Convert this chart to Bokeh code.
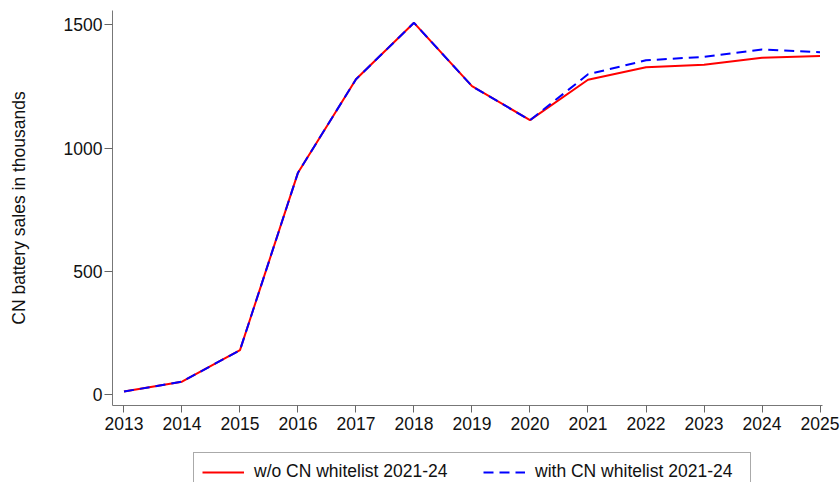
from bokeh.plotting import figure
from bokeh.models import Legend, LegendItem, FixedTicker, Range1d
from bokeh.layouts import column
from bokeh.embed import file_html
from bokeh.resources import INLINE

years = [2013, 2014, 2015, 2016, 2017, 2018, 2019, 2020, 2021, 2022, 2023, 2024, 2025]
sales_without = [12, 52, 180, 900, 1279, 1508, 1251, 1113, 1277, 1328, 1338, 1366, 1373]
sales_with = [12, 52, 180, 900, 1279, 1508, 1251, 1113, 1299, 1356, 1370, 1400, 1389]
y_ticks = [0, 500, 1000, 1500]
label_without = "w/o CN whitelist 2021-24"
label_with = "with CN whitelist 2021-24"
y_title = "CN battery sales in thousands"

FONT = "Liberation Sans"
FS = "17.5px"
RED = "#FF0000"
BLUE = "#0000FF"
DASH = "10 6"

# ---- main chart ----
p = figure(width=840, height=445, output_backend="svg", toolbar_location=None,
           title=None,
           x_range=Range1d(2012.802, 2025.043), y_range=Range1d(-44.6, 1558))
p.min_border_left = 112
p.min_border_right = 18
p.min_border_top = 10
p.min_border_bottom = 40
p.outline_line_color = None
p.grid.visible = False
p.background_fill_color = "white"
p.border_fill_color = "white"

p.line(years, sales_without, line_color=RED, line_width=2)
p.line(years, sales_with, line_color=BLUE, line_width=2, line_dash=DASH)

for ax in (p.xaxis[0], p.yaxis[0]):
    ax.axis_line_color = "#777777"
    ax.major_tick_line_color = "#666666"
    ax.minor_tick_line_color = None
    ax.major_tick_in = 0
    ax.major_label_text_font = FONT
    ax.major_label_text_font_size = FS
    ax.major_label_text_color = "#111111"

p.xaxis.ticker = FixedTicker(ticks=years)
p.xaxis.major_tick_out = 7
p.xaxis.major_label_standoff = 4

p.yaxis.ticker = FixedTicker(ticks=y_ticks)
p.yaxis.major_tick_out = 8
p.yaxis.major_label_standoff = 2
p.yaxis.axis_label = y_title
p.yaxis.axis_label_text_font = FONT
p.yaxis.axis_label_text_font_size = FS
p.yaxis.axis_label_text_font_style = "normal"
p.yaxis.axis_label_text_color = "#111111"
p.yaxis.axis_label_standoff = 32

# ---- legend strip (frame is aligned with the chart's frame by the column) ----
lg = figure(width=840, height=37, output_backend="svg", toolbar_location=None,
            title=None, x_axis_type=None, y_axis_type=None,
            x_range=Range1d(0, 1), y_range=Range1d(0, 1))
lg.min_border_left = 0
lg.min_border_right = 0
lg.min_border_top = 0
lg.min_border_bottom = 0
lg.outline_line_color = None
lg.grid.visible = False
lg.background_fill_color = "white"
lg.border_fill_color = "white"

# same series, outside this strip's ranges: only their legend glyphs show
k_without = lg.line(years, sales_without, line_color=RED, line_width=2)
k_with = lg.line(years, sales_with, line_color=BLUE, line_width=2, line_dash=DASH)

legend = Legend(items=[LegendItem(label=label_without, renderers=[k_without]),
                       LegendItem(label=label_with, renderers=[k_with])],
                orientation="horizontal", location=(81, -9), margin=0,
                padding=8, spacing=22, glyph_width=42, glyph_height=20,
                label_height=20, label_width=207, label_standoff=10,
                label_text_font=FONT, label_text_font_size=FS,
                label_text_color="#111111",
                border_line_color="#555555", border_line_width=1,
                background_fill_color="white", background_fill_alpha=1.0)
lg.add_layout(legend, "center")

layout = column(p, lg, spacing=0)
open("out.html", "w").write(file_html(layout, INLINE))
